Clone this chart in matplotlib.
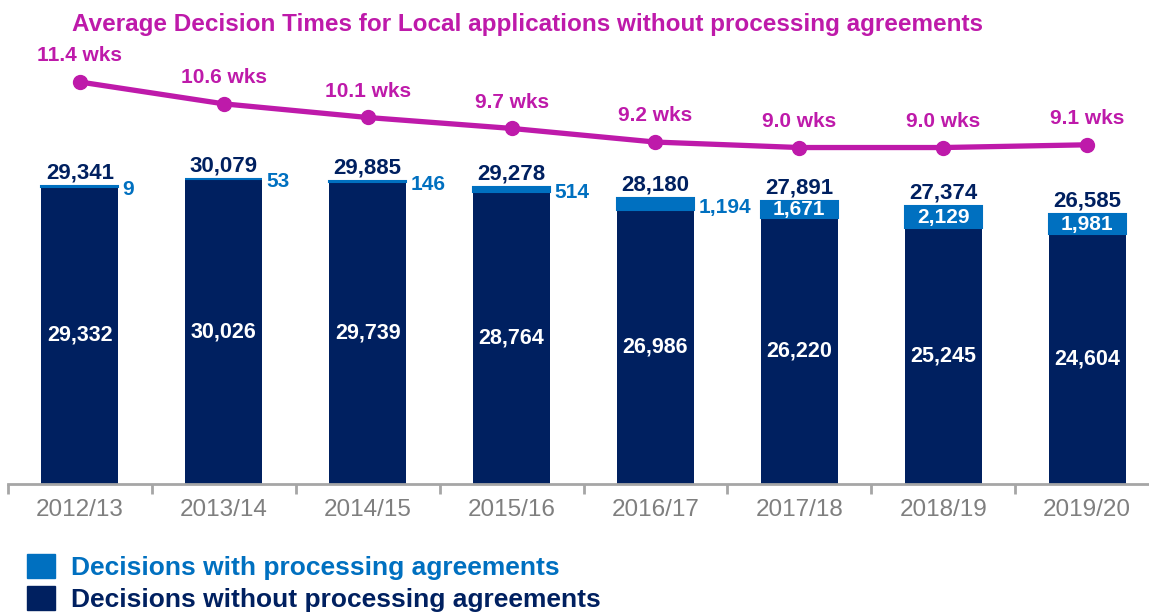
import numpy as np
import matplotlib
matplotlib.use("Agg")
import matplotlib.pyplot as plt
from matplotlib.patches import Patch

years = ["2012/13", "2013/14", "2014/15", "2015/16", "2016/17", "2017/18", "2018/19", "2019/20"]
without_pa = [29332, 30026, 29739, 28764, 26986, 26220, 25245, 24604]
with_pa = [9, 53, 146, 514, 1194, 1671, 2129, 1981]
weeks = [11.4, 10.6, 10.1, 9.7, 9.2, 9.0, 9.0, 9.1]

NAVY = "#002060"
BLUE = "#0070C0"
MAGENTA = "#BE1AAA"
GREY = "#7F7F7F"

plt.rcParams['font.family'] = ['Liberation Sans', 'DejaVu Sans']

W, H = 1149, 612
fig = plt.figure(figsize=(W / 100, H / 100), dpi=100)
ax = fig.add_axes([8 / W, (H - 484) / H, 1141 / W, 484 / H])

x = np.arange(len(years))
totals = [a + b for a, b in zip(without_pa, with_pa)]

ax.bar(x, without_pa, width=0.535, color=NAVY)
ax.bar(x, with_pa, bottom=without_pa, width=0.535, color=BLUE,
       edgecolor=BLUE, linewidth=1.5)

ax.set_xlim(-0.5, 7.43)
ax.set_ylim(0, 47722)

for s in ["top", "right", "left"]:
    ax.spines[s].set_visible(False)
ax.spines["bottom"].set_color("#A6A6A6")
ax.spines["bottom"].set_linewidth(2)
ax.set_yticks([])
ax.set_xticks(x)
ax.set_xticklabels(years, fontsize=17.5, color=GREY)
ax.tick_params(axis="x", which="major", length=0, pad=11)
ax.set_xticks(np.arange(-0.5, 7.4, 1), minor=True)
ax.tick_params(axis="x", which="minor", length=7, width=2, color="#A6A6A6")

for i in range(len(years)):
    # totals above
    ax.annotate(f"{totals[i]:,}", (x[i], totals[i]), xytext=(0, 2),
                textcoords="offset points", ha="center", va="bottom",
                fontsize=16, fontweight="bold", color=NAVY)
    # inner navy label
    ax.text(x[i], without_pa[i] / 2, f"{without_pa[i]:,}", ha="center",
            va="center", fontsize=15.5, fontweight="bold", color="white")
    # processing agreement label
    if with_pa[i] > 1500:
        ax.text(x[i], without_pa[i] + with_pa[i] / 2, f"{with_pa[i]:,}",
                ha="center", va="center", fontsize=15, fontweight="bold",
                color="white")
    else:
        ax.annotate(f"{with_pa[i]:,}", (x[i] + 0.535 / 2, without_pa[i] + with_pa[i] / 2),
                    xytext=(3, -2), textcoords="offset points", ha="left",
                    va="center", fontsize=15, fontweight="bold", color=BLUE)

ax2 = ax.twinx()
ax2.set_ylim(-3.325, 14.404)
ax2.axis("off")
ax2.plot(x, weeks, color=MAGENTA, linewidth=3.8, marker="o", markersize=10)
for i in range(len(years)):
    ax2.annotate(f"{weeks[i]:.1f} wks", (x[i], weeks[i]), xytext=(0, 19),
                 textcoords="offset points", ha="center", va="center",
                 fontsize=15, fontweight="bold", color=MAGENTA)

fig.text(528 / W, 1 - 25 / H,
         "Average Decision Times for Local applications without processing agreements",
         ha="center", va="center", fontsize=17.5, fontweight="bold", color=MAGENTA)

handles = [Patch(color=BLUE), Patch(color=NAVY)]
fig.legend(handles, ["Decisions with processing agreements",
                     "Decisions without processing agreements"],
           loc="upper left", bbox_to_anchor=(27 / W, 1 - 554 / H),
           frameon=False, borderpad=0, borderaxespad=0,
           handlelength=1.05, handleheight=1.0, handletextpad=0.6,
           labelspacing=0.25, labelcolor=[BLUE, NAVY],
           prop={"size": 19, "weight": "bold"})

fig.savefig("out.png", dpi=100)
